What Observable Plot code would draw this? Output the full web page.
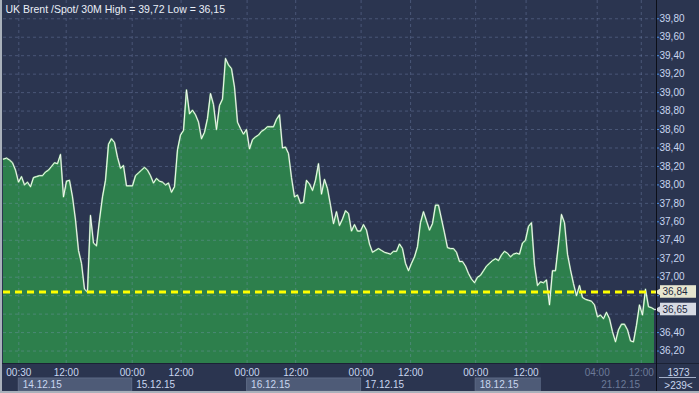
<!DOCTYPE html>
<html>
<head>
<meta charset="utf-8">
<script src="https://cdn.jsdelivr.net/npm/d3@7"></script>
<script src="https://cdn.jsdelivr.net/npm/@observablehq/plot@0.6"></script>
<style>
  html, body { margin: 0; padding: 0; background: #2b3550; }
  #wrap { position: relative; width: 699px; height: 393px; overflow: hidden; }
  #wrap svg { display: block; background: linear-gradient(to bottom, #3f4e6d 0px, #2e3958 363px, #3b4866 363px, #3b4866 393px); }
  #edge { position: absolute; left: 0; top: 0; width: 699px; height: 393px; box-sizing: border-box;
          border-left: 2px solid #a9b1bb; border-bottom: 2px solid #a9b1bb; pointer-events: none; }
</style>
</head>
<body>
<div id="wrap"><div id="edge"></div></div>
<script>
// ---- data (30-minute bars, UK Brent spot) ----
const title = "UK Brent /Spot/ 30M High = 39,72 Low = 36,15";
const prices = [
  38.28, 38.29, 38.27, 38.24, 38.16, 38.03, 38.09, 38.00, 38.03, 37.98,
  38.08, 38.09, 38.10, 38.10, 38.14, 38.16, 38.20, 38.24, 38.23, 38.33,
  37.87, 38.04, 38.05, 37.87, 37.62, 37.29, 37.15, 36.87, 36.84, 37.67,
  37.37, 37.34, 37.62, 37.87, 38.05, 38.44, 38.50, 38.46, 38.30, 38.18,
  38.21, 37.99, 37.99, 37.99, 38.10, 38.13, 38.16, 38.19, 38.16, 38.10,
  38.02, 38.07, 38.04, 38.03, 38.00,
  38.02, 37.92, 37.98, 38.38, 38.54, 38.59, 39.03, 38.77, 38.81, 38.76,
  38.68, 38.50, 38.57, 38.72, 38.99, 38.87, 38.60, 38.86, 38.93, 39.37,
  39.30, 39.26, 39.06, 38.68, 38.61, 38.55, 38.60, 38.39, 38.49, 38.52,
  38.54, 38.58, 38.60, 38.63, 38.63, 38.63, 38.71, 38.76, 38.40, 38.41,
  38.34, 38.08, 37.87, 37.89, 37.80, 37.81, 38.05, 38.01, 37.94, 38.05,
  38.23, 37.90, 38.06,
  37.96, 37.78, 37.58, 37.71, 37.56, 37.63, 37.72, 37.69, 37.50, 37.57,
  37.50, 37.50, 37.57, 37.51, 37.36, 37.27, 37.29, 37.31, 37.29, 37.27,
  37.26, 37.25, 37.28, 37.28, 37.36, 37.31, 37.15, 37.07, 37.15, 37.22,
  37.33, 37.59, 37.71, 37.61, 37.51, 37.58, 37.78, 37.78, 37.63, 37.48,
  37.32, 37.31, 37.31, 37.27, 37.17, 37.17, 37.12, 37.04, 36.98, 36.94,
  37.00, 37.02, 37.07, 37.12, 37.15,
  37.18, 37.20, 37.18, 37.24, 37.28, 37.26, 37.22, 37.25, 37.26, 37.25,
  37.37, 37.40, 37.55, 37.59, 37.13, 36.91, 36.95, 36.94, 36.97, 36.70,
  37.07, 37.07, 37.36, 37.68, 37.59, 37.25, 37.08, 36.93, 36.80, 36.91,
  36.78, 36.76, 36.75, 36.74, 36.70, 36.57, 36.59, 36.55, 36.62, 36.55,
  36.41, 36.30, 36.43, 36.49, 36.49, 36.43, 36.31, 36.30, 36.48, 36.70,
  36.59, 36.87, 36.68, 36.67, 36.65
];
const yTicks = [36.2, 36.4, 36.6, 36.8, 37.0, 37.2, 37.4, 37.6, 37.8, 38.0, 38.2, 38.4, 38.6, 38.8, 39.0, 39.2, 39.4, 39.6, 39.8];
const timeTickBars = [5.1, 20.9, 42.9, 59.2, 81.2, 97.4, 119.2, 135.7, 157.4, 174.2, 197.9, 212.6];
const timeTickLabels = ["00:30", "12:00", "00:00", "12:00", "00:00", "12:00", "00:00", "12:00", "00:00", "12:00", "04:00", "12:00"];
const dateBars = [5.1, 42.9, 81.2, 119.2, 157.4, 197.9];
const dateLabels = ["14.12.15", "15.12.15", "16.12.15", "17.12.15", "18.12.15", "21.12.15"];
const refLevel = 36.84;
const lastPrice = 36.65;
const barCount = "1373";
const visibleCount = ">239<";
const dimFromBar = 179.3;

// ---- derived tables ----
const series = prices.map((v, i) => ({i, v}));
const xMax = 217.67;
const yMin = 36.065, yMax = 39.998;
const times = timeTickBars.map((b, k) => ({b, label: timeTickLabels[k], dim: b > dimFromBar}));
const dates = dateBars.map((b, k) => ({b, label: dateLabels[k], dim: b > dimFromBar}));
const panels = [0, 2, 4].map(k => ({x1: dateBars[k], x2: k + 1 < dateBars.length ? Math.min(dateBars[k + 1], dimFromBar) : xMax}));
const tags = [
  {v: refLevel, fill: "#e6e6cf"},
  {v: lastPrice, fill: "#d6dae3"}
];
const fmt = d => d.toFixed(2).replace(".", ",");
// axis labels hidden behind the price tags
const covered = d => tags.some(t => Math.abs(t.v - d) < 0.07);
const font = "'Liberation Sans', Arial, sans-serif";

const chart = Plot.plot({
  width: 699,
  height: 393,
  marginLeft: 3,
  marginRight: 43,
  marginTop: 0,
  marginBottom: 30,
  x: {domain: [0, xMax], axis: null},
  y: {domain: [yMin, yMax], axis: null},
  style: {background: "transparent", fontFamily: font, fontSize: "10px", overflow: "visible"},
  marks: [
    Plot.areaY(series, {x: "i", y1: yMin, y2: "v", fill: "#2d7f4c", clip: true}),
    Plot.ruleY(yTicks, {stroke: "#8a9cc8", strokeOpacity: 0.33, strokeDasharray: "3,3"}),
    Plot.ruleX(timeTickBars, {stroke: "#8a9cc8", strokeOpacity: 0.33, strokeDasharray: "3,3"}),
    Plot.lineY(series, {x: "i", y: "v", stroke: "#a8f09a", strokeWidth: 1.8, strokeOpacity: 0.55}),
    Plot.lineY(series, {x: "i", y: "v", stroke: "#ffffff", strokeWidth: 0.9}),
    Plot.ruleY([refLevel], {stroke: "#ffff00", strokeWidth: 3, strokeDasharray: "7,5"}),
    // bottom time axis
    Plot.rect(panels, {x1: "x1", x2: "x2", fill: "#4e5b77", stroke: "#5d6a85", insetTop: 378, insetBottom: -28}),
    Plot.rect([{x1: dimFromBar, x2: xMax}], {x1: "x1", x2: "x2", fill: "#29324d", insetTop: 364, insetBottom: -28}),
    Plot.text(times, {x: "b", text: "label", frameAnchor: "bottom", lineAnchor: "middle", dy: 9.5,
      fill: d => d.dim ? "#6c7a98" : "#c9d6ef"}),
    Plot.text(dates, {x: "b", text: "label", frameAnchor: "bottom", lineAnchor: "middle", dy: 21.5, dx: 4, textAnchor: "start",
      fill: d => d.dim ? "#6c7a98" : "#c9d6ef"}),
    // right price axis
    Plot.axisY(yTicks, {anchor: "right", label: null, tickFormat: d => covered(d) ? "" : fmt(d), tickSize: 2, tickPadding: 1,
      stroke: "#4d8fe6", fill: "#c9d6ef", fontSize: 10}),
    Plot.rect(tags, {y1: d => d.v - 0.068, y2: d => d.v + 0.068, fill: "fill", insetLeft: 657, insetRight: -40}),
    Plot.dot(tags, {y: "v", frameAnchor: "right", dx: 3.5, symbol: "triangle", r: 3.6, rotate: -90, fill: "fill"}),
    Plot.text(tags, {y: "v", text: d => fmt(d.v), frameAnchor: "right", dx: 6, textAnchor: "start", fill: "#1d2740", fontSize: 10}),
    // corner counters
    Plot.text([barCount], {frameAnchor: "bottom-right", lineAnchor: "middle", dx: 22, dy: 9, textAnchor: "middle", fill: "#c9d6ef"}),
    Plot.text([visibleCount], {frameAnchor: "bottom-right", lineAnchor: "middle", dx: 22, dy: 22, textAnchor: "middle", fill: "#c9d6ef"}),
    Plot.rect([0], {fill: "#a3afc8", insetLeft: 656, insetRight: -40, insetTop: 377, insetBottom: -15}),
    // frame lines
    Plot.ruleY([yMin], {stroke: "#1b2235", insetLeft: -3, insetRight: -43}),
    Plot.ruleX([xMax], {stroke: "#0c0f18", insetBottom: -30}),
    // title
    Plot.text([title], {frameAnchor: "top-left", lineAnchor: "middle", dx: 2, dy: 9, textAnchor: "start",
      fill: "#e9eef7", fontSize: 10.5})
  ]
});
document.getElementById("wrap").prepend(chart);
</script>
</body>
</html>
